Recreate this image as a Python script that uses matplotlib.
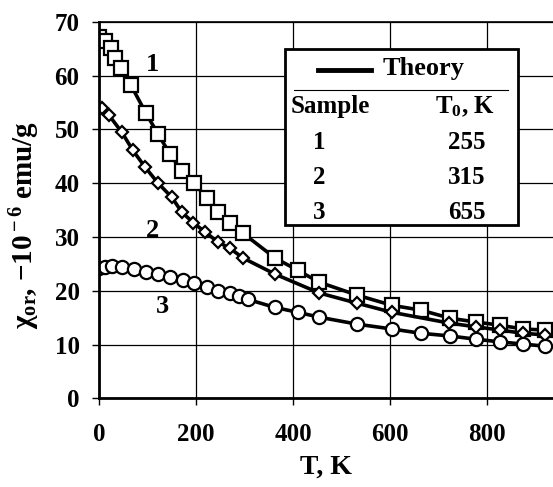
import matplotlib.pyplot as plt
from matplotlib.patches import Rectangle

plt.rcParams['font.family'] = ['Liberation Serif', 'DejaVu Serif']
plt.rcParams['font.weight'] = 'bold'
plt.rcParams['axes.labelweight'] = 'bold'
plt.rcParams['mathtext.fontset'] = 'custom'
plt.rcParams['mathtext.rm'] = 'Liberation Serif:bold'
plt.rcParams['mathtext.it'] = 'Liberation Serif:bold:italic'
plt.rcParams['mathtext.bf'] = 'Liberation Serif:bold'

# sample 1 (squares)
t1 = [0, 12, 25, 33, 45, 66, 97, 122, 146, 171, 196, 223, 245, 270, 297,
      363, 410, 454, 532, 604, 664, 724, 777, 827, 874, 920]
chi1 = [67.2, 66.4, 65.1, 63.3, 61.4, 58.2, 53.0, 49.1, 45.5, 42.2, 40.0, 37.2,
        34.6, 32.6, 30.7, 26.1, 23.8, 21.6, 19.2, 17.3, 16.4, 14.9, 14.2,
        13.6, 12.9, 12.7]

# sample 2 (diamonds)
t2 = [6, 21, 47, 70, 95, 122, 150, 171, 194, 219, 245, 270, 297, 363, 454,
      532, 604, 722, 777, 827, 874, 920]
chi2 = [53.9, 52.6, 49.5, 46.1, 43.0, 40.0, 37.4, 34.6, 32.7, 30.9, 29.1,
        27.9, 26.1, 23.1, 19.6, 17.7, 16.0, 14.0, 13.3, 12.7, 12.1, 11.8]

# sample 3 (circles)
t3 = [0, 12, 27, 47, 72, 97, 122, 146, 173, 196, 223, 245, 270, 289, 307,
      363, 410, 454, 532, 604, 664, 724, 777, 827, 874, 920]
chi3 = [24.2, 24.4, 24.6, 24.4, 24.0, 23.5, 23.1, 22.5, 22.0, 21.4, 20.7,
        19.9, 19.6, 19.0, 18.4, 16.9, 16.0, 15.1, 13.8, 12.9, 12.1, 11.6,
        11.0, 10.5, 10.1, 9.7]

samples = ['1', '2', '3']
t0_values = ['255', '315', '655']

fig = plt.figure(figsize=(5.53, 4.87), dpi=100)
ax = fig.add_axes([0.179, 0.182, 0.821, 0.773])

ax.plot(t1, chi1, '-', color='black', lw=2.6, marker='s', ms=10,
        mfc='white', mec='black', mew=1.6)
ax.plot(t2, chi2, '-', color='black', lw=2.6, marker='D', ms=6.5,
        mfc='white', mec='black', mew=1.6)
ax.plot(t3, chi3, '-', color='black', lw=2.6, marker='o', ms=9.5,
        mfc='white', mec='black', mew=1.6)

ax.text(111, 62, '1', fontsize=19, ha='center', va='center')
ax.text(111, 31.3, '2', fontsize=19, ha='center', va='center')
ax.text(130, 17.0, '3', fontsize=19, ha='center', va='center')

ax.set_xlim(0, 936)
ax.set_ylim(0, 70)
ax.set_xticks(range(0, 801, 200))
ax.set_yticks(range(0, 71, 10))
ax.grid(True, color='black', lw=0.9)
ax.set_axisbelow(True)
ax.tick_params(labelsize=18, length=5, width=1, direction='out')
ax.tick_params(axis='x', pad=13)
ax.tick_params(axis='y', pad=9)
ax.spines['right'].set_visible(False)
ax.spines['left'].set_linewidth(2)
ax.spines['bottom'].set_linewidth(2)
ax.spines['top'].set_linewidth(1.2)

ax.set_xlabel('T, K', fontsize=20, labelpad=6)
ax.set_ylabel(r'χ$_{\rm or}$, −10$^{\rm -6}$ emu/g', fontsize=21)
ax.yaxis.set_label_coords(-0.125, 0.46)

# legend table
tr = ax.transAxes
ax.add_patch(Rectangle((0.41, 0.46), 0.513, 0.467, transform=tr,
                       facecolor='white', edgecolor='black', lw=2, zorder=5))
ax.plot([0.482, 0.599], [0.872, 0.872], transform=tr, color='black', lw=3.5,
        zorder=6)
ax.text(0.625, 0.875, 'Theory', transform=tr, fontsize=19, va='center',
        ha='left', zorder=6)
ax.plot([0.43, 0.90], [0.819, 0.819], transform=tr, color='black', lw=0.8,
        zorder=6)
ax.text(0.51, 0.775, 'Sample', transform=tr, fontsize=18, va='center',
        ha='center', zorder=6)
ax.text(0.806, 0.775, r'T$_{\rm 0}$, K', transform=tr, fontsize=18,
        va='center', ha='center', zorder=6)
for i, (s, v) in enumerate(zip(samples, t0_values)):
    y = 0.68 - i * 0.093
    ax.text(0.485, y, s, transform=tr, fontsize=18, va='center', ha='center',
            zorder=6)
    ax.text(0.81, y, v, transform=tr, fontsize=18, va='center', ha='center',
            zorder=6)

fig.savefig('out.png', dpi=100)
